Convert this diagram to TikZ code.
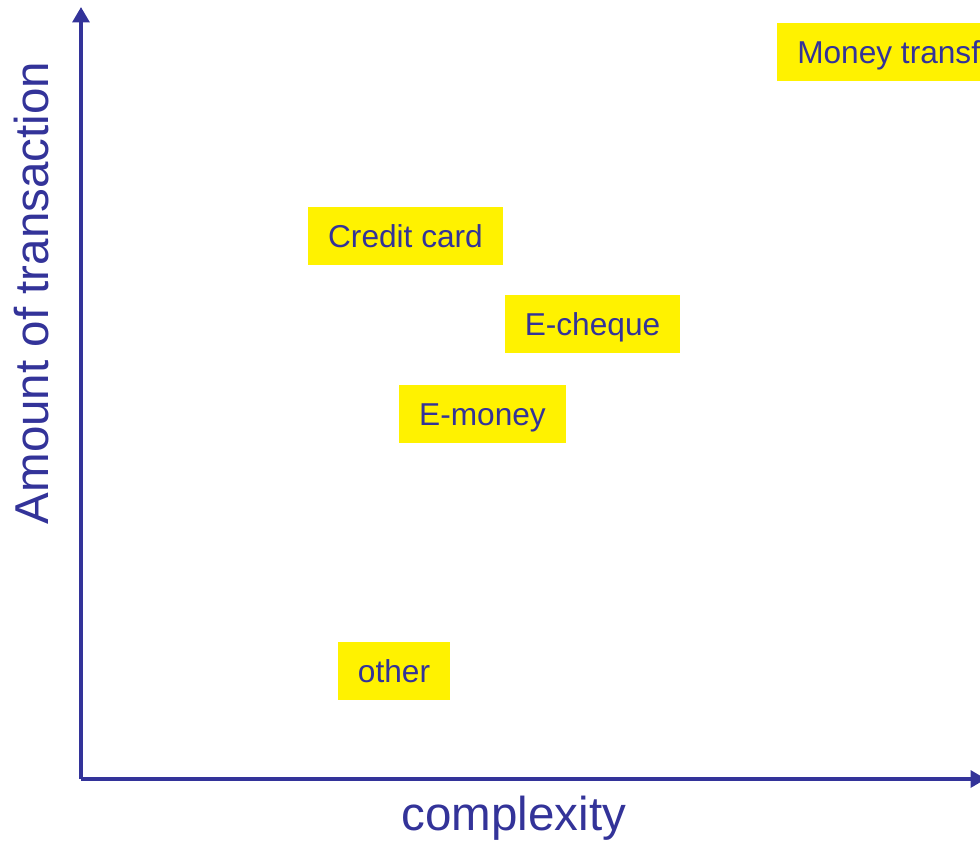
\documentclass[tikz,border=0pt]{standalone}
\usepackage{fontspec}
\setmainfont{Liberation Sans}
\usetikzlibrary{arrows.meta}

\definecolor{axisblue}{RGB}{51,51,153}
\tikzset{
  payment/.style={fill=yellow, text=axisblue, font=\fontsize{22.5}{27}\selectfont,
    inner xsep=14.2pt, minimum height=41.3pt, text height=18.6pt, text depth=2.4pt},
  axis/.style={draw=axisblue, line width=2.6pt, -{Triangle[width=12pt,length=11pt]}},
  axislabel/.style={text=axisblue, font=\fontsize{33.8}{40}\selectfont}
}

\begin{document}
\begin{tikzpicture}[x=0.025cm, y=-0.025cm]
\useasboundingbox (0,0) rectangle (980,844);
\clip (0,0) rectangle (980,844);
% axes
\coordinate (origin) at (81,779);
\coordinate (ytop) at (81,7);
\coordinate (xend) at (986,779);
\draw [axis] (origin) -- (ytop);
\draw [axis] (origin) -- (xend);
\node [axislabel, rotate=90] (ylabel) at (32,293) {Amount of transaction};
\node [axislabel] (xlabel) at (514,818) {complexity};
% payment methods
\node [payment, anchor=west] (transfer) at (777,52) {Money transfer};
\node [payment] (credit) at (405.5,236) {Credit card};
\node [payment] (cheque) at (592.5,324) {E-cheque};
\node [payment] (emoney) at (482.5,414) {E-money};
\node [payment] (other) at (394,671) {other};
\end{tikzpicture}
\end{document}
